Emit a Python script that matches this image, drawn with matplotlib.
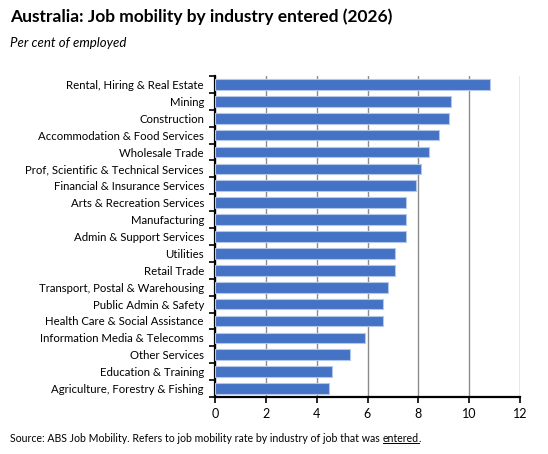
import numpy as np
import matplotlib
matplotlib.use("Agg")
import matplotlib.pyplot as plt

plt.rcParams['font.family'] = ['Lato', 'DejaVu Sans']

industries = [
    "Rental, Hiring & Real Estate",
    "Mining",
    "Construction",
    "Accommodation & Food Services",
    "Wholesale Trade",
    "Prof, Scientific & Technical Services",
    "Financial & Insurance Services",
    "Arts & Recreation Services",
    "Manufacturing",
    "Admin & Support Services",
    "Utilities",
    "Retail Trade",
    "Transport, Postal & Warehousing",
    "Public Admin & Safety",
    "Health Care & Social Assistance",
    "Information Media & Telecomms",
    "Other Services",
    "Education & Training",
    "Agriculture, Forestry & Fishing",
]
mobility = [10.8, 9.3, 9.2, 8.8, 8.4, 8.1, 7.9, 7.5, 7.5, 7.5,
            7.1, 7.1, 6.8, 6.6, 6.6, 5.9, 5.3, 4.6, 4.5]
xticks = [0, 2, 4, 6, 8, 10, 12]

fig = plt.figure(figsize=(5.48, 4.54), dpi=100)
ax = fig.add_axes([215 / 548, 1 - 397 / 454, 305 / 548, 321 / 454])

y = np.arange(len(industries))
ax.barh(y, mobility, height=0.63, color="#4472C4", edgecolor="#B4C7E7",
        linewidth=0.8, zorder=3)

ax.set_xlim(0, 12)
ax.set_ylim(len(industries) - 0.5, -0.5)
ax.set_xticks(xticks)
ax.set_xticklabels([str(t) for t in xticks], fontsize=9)
ax.grid(axis="x", color="#8C8C8C", linewidth=1.0, zorder=0)

# category labels, ticks sit between the bars
ax.set_yticks(y)
ax.set_yticklabels(industries, fontsize=8.2)
ax.tick_params(axis="y", length=0, pad=8)
ax.set_yticks(np.arange(len(industries) + 1) - 0.5, minor=True)
ax.tick_params(axis="y", which="minor", length=4, width=1.2, color="black")
ax.tick_params(axis="x", length=4, width=1.2, color="black", pad=4)

for side in ["top", "right"]:
    ax.spines[side].set_visible(False)
for side in ["left", "bottom"]:
    ax.spines[side].set_linewidth(1.6)
    ax.spines[side].set_color("black")

fig.text(10 / 548, 1 - 17 / 454, "Australia: Job mobility by industry entered (2026)",
         fontsize=12.5, fontweight="bold", va="center", ha="left")
fig.text(10 / 548, 1 - 43 / 454, "Per cent of employed",
         fontsize=9.5, style="italic", va="center", ha="left")
src = fig.text(10 / 548, 1 - 438 / 454,
               "Source: ABS Job Mobility. Refers to job mobility rate by industry of job that was ",
               fontsize=7.6, va="center", ha="left")
fig.canvas.draw()
r = fig.canvas.get_renderer()
bb = src.get_window_extent(renderer=r)
t2 = fig.text(bb.x1 / fig.bbox.width, 1 - 438 / 454, "entered", fontsize=7.6,
              va="center", ha="left")
bb2 = t2.get_window_extent(renderer=r)
# underline for "entered"
fig.add_artist(plt.Line2D([bb2.x0 / fig.bbox.width, bb2.x1 / fig.bbox.width],
                          [(bb2.y0 + 1) / fig.bbox.height] * 2,
                          color="black", linewidth=0.7, transform=fig.transFigure))
fig.text(bb2.x1 / fig.bbox.width, 1 - 438 / 454, ".", fontsize=7.6, va="center", ha="left")

fig.savefig("out.png", dpi=100)
